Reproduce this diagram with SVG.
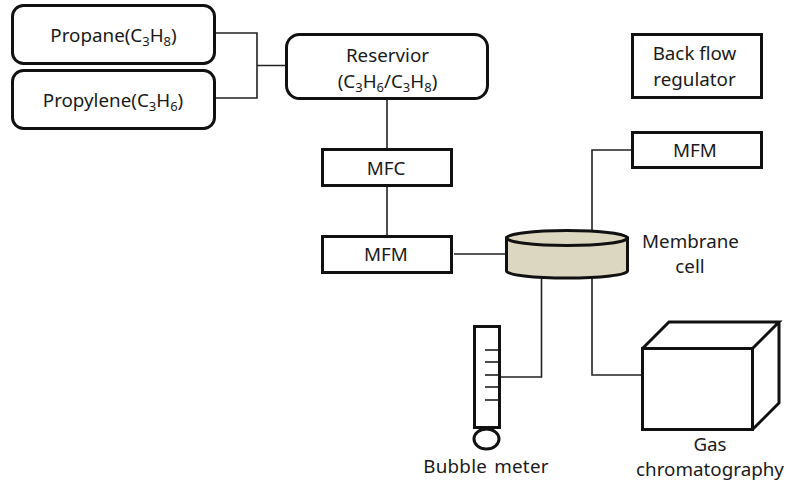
<svg xmlns="http://www.w3.org/2000/svg" width="786" height="484" viewBox="0 0 786 484">
<style>
.b{fill:#fff;stroke:#111;stroke-width:3}
.c{fill:none;stroke:#222;stroke-width:1.6}
.m{fill:#dbd7c1;stroke:#111;stroke-width:3}
.t{font-family:"Noto Sans","Open Sans",sans-serif;font-size:18.8px;fill:#1a1a1a;text-anchor:middle}
.s{font-size:13px}
</style>
<rect width="786" height="484" fill="#fff"/>
<g id="connectors" class="c">
<path d="M215 33H257V98H215M257 65.500H287"/>
<path d="M387 99V150M387 185V236M454 254H507M592 232V150H632M592 277V375H642M541.500 277V377H500"/>
</g>
<g id="propane"><rect class="b" x="12.500" y="5.500" width="202" height="58" rx="11"/><text class="t" x="113.500" y="42">Propane(C<tspan class="s" dy="4">3</tspan><tspan dy="-4">H</tspan><tspan class="s" dy="4">8</tspan><tspan dy="-4">)</tspan></text></g>
<g id="propylene"><rect class="b" x="12.500" y="70.500" width="202" height="58" rx="11"/><text class="t" x="113" y="107">Propylene(C<tspan class="s" dy="4">3</tspan><tspan dy="-4">H</tspan><tspan class="s" dy="4">6</tspan><tspan dy="-4">)</tspan></text></g>
<g id="reservior"><rect class="b" x="286.500" y="34.500" width="201" height="64" rx="13"/><text class="t" x="387.500" y="62">Reservior</text><text class="t" x="387.500" y="88">(C<tspan class="s" dy="4">3</tspan><tspan dy="-4">H</tspan><tspan class="s" dy="4">6</tspan><tspan dy="-4">/C</tspan><tspan class="s" dy="4">3</tspan><tspan dy="-4">H</tspan><tspan class="s" dy="4">8</tspan><tspan dy="-4">)</tspan></text></g>
<g id="mfc"><rect class="b" x="322.500" y="149.500" width="129" height="36"/><text class="t" x="386" y="175">MFC</text></g>
<g id="mfm1"><rect class="b" x="322.500" y="236.500" width="129" height="36"/><text class="t" x="386" y="261">MFM</text></g>
<g id="regulator"><rect class="b" x="632.500" y="34.500" width="129" height="63"/><text class="t" x="694.500" y="60">Back flow</text><text class="t" x="694.500" y="86">regulator</text></g>
<g id="mfm2"><rect class="b" x="632.500" y="132.500" width="129" height="35"/><text class="t" x="695" y="157">MFM</text></g>
<g id="membrane">
<path class="m" d="M506.500 238V271A60.500 7 0 0 0 627.500 271V238Z"/>
<ellipse class="m" cx="567" cy="238" rx="60.500" ry="7.500"/>
<text class="t" x="690.500" y="248">Membrane</text><text class="t" x="690" y="273">cell</text>
</g>
<g id="bubble">
<rect class="b" x="474.500" y="326.500" width="25" height="101"/>
<ellipse cx="486.500" cy="439" rx="12.500" ry="10" fill="#fff" stroke="#111" stroke-width="3"/>
<path d="M485 350H498M485 362H498M485 375H498M485 387H498M485 400H498" stroke="#111" stroke-width="1.600" fill="none"/>
<text class="t" x="486" y="473" style="word-spacing:2px;letter-spacing:.25px">Bubble meter</text>
</g>
<g id="gc">
<path class="b" d="M642.500 348.500H752.500V429.500H642.500ZM642.500 348.500L669 322H779L752.500 348.500M779 322V403L752.500 429.500"/>
<text class="t" x="710" y="451">Gas</text><text class="t" x="710" y="476">chromatography</text>
</g>
</svg>
